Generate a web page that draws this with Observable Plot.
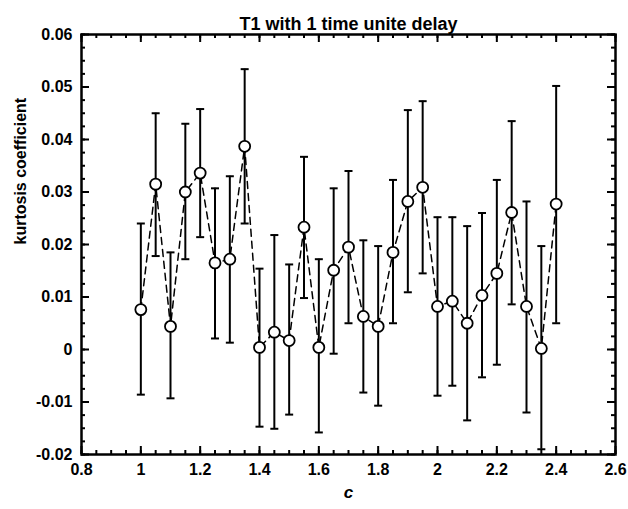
<!DOCTYPE html>
<html>
<head>
<meta charset="utf-8">
<script src="https://cdn.jsdelivr.net/npm/d3@7"></script>
<script src="https://cdn.jsdelivr.net/npm/@observablehq/plot@0.6"></script>
<style>
  html, body { margin: 0; padding: 0; background: #fff; }
</style>
</head>
<body>
<div id="chart"></div>
<script>
const titleText = "T1 with 1 time unite delay";
const xLabel = "c";
const yLabel = "kurtosis coefficient";

const cValues = [1.0, 1.05, 1.1, 1.15, 1.2, 1.25, 1.3, 1.35, 1.4, 1.45, 1.5, 1.55, 1.6, 1.65, 1.7,
                 1.75, 1.8, 1.85, 1.9, 1.95, 2.0, 2.05, 2.1, 2.15, 2.2, 2.25, 2.3, 2.35, 2.4];
const kurtMean = [0.0076, 0.0315, 0.0044, 0.0300, 0.0336, 0.0165, 0.0172, 0.0387, 0.0004, 0.0033,
                  0.0017, 0.0233, 0.0004, 0.0151, 0.0195, 0.0063, 0.0044, 0.0185, 0.0282, 0.0309,
                  0.0082, 0.0092, 0.0050, 0.0103, 0.0145, 0.0261, 0.0082, 0.0002, 0.0277];
const kurtHigh = [0.0240, 0.0450, 0.0185, 0.0430, 0.0458, 0.0307, 0.0330, 0.0534, 0.0154, 0.0218,
                  0.0162, 0.0367, 0.0172, 0.0307, 0.0340, 0.0208, 0.0197, 0.0323, 0.0456, 0.0473,
                  0.0252, 0.0252, 0.0235, 0.0260, 0.0323, 0.0435, 0.0282, 0.0197, 0.0502];
const kurtLow  = [-0.0086, 0.0178, -0.0093, 0.0172, 0.0214, 0.0021, 0.0013, 0.0240, -0.0147, -0.0151,
                  -0.0124, 0.0098, -0.0158, -0.0008, 0.0050, -0.0082, -0.0107, 0.0050, 0.0109, 0.0145,
                  -0.0088, -0.0069, -0.0135, -0.0053, -0.0029, 0.0086, -0.0120, -0.0190, 0.0050];

const xTickLabels = [0.8, 1.0, 1.2, 1.4, 1.6, 1.8, 2.0, 2.2, 2.4, 2.6];
const yTickLabels = [-0.02, -0.01, 0, 0.01, 0.02, 0.03, 0.04, 0.05, 0.06];
const xMinorTicks = d3.range(0, 37).map(i => +(0.8 + i * 0.05).toFixed(2));
const yMinorTicks = d3.range(0, 33).map(i => +(-0.02 + i * 0.0025).toFixed(4));

const data = cValues.map((c, i) => ({c, m: kurtMean[i], hi: kurtHigh[i], lo: kurtLow[i]}));

const W = 628, H = 509;
const mL = 81, mR = 13, mT = 34, mB = 55;
const fw = W - mL - mR, fh = H - mT - mB;
const fmt = d => String(+d.toFixed(3));

const capSymbol = {
  draw(ctx, size) {
    const w = Math.sqrt(size / Math.PI);
    ctx.moveTo(-w, 0);
    ctx.lineTo(w, 0);
  }
};

const font = "'Liberation Sans', Arial, sans-serif";

const plot = Plot.plot({
  width: W,
  height: H,
  marginLeft: mL,
  marginRight: mR,
  marginTop: mT,
  marginBottom: mB,
  style: {fontFamily: font, fontSize: "16px", fontWeight: "bold", color: "#000", background: "#fff", overflow: "visible"},
  x: {domain: [0.8, 2.6]},
  y: {domain: [-0.02, 0.06]},
  marks: [
    // tick marks (inward) on all four sides
    Plot.tickX(xMinorTicks, {x: d => d, insetTop: fh - 4, stroke: "#000", strokeWidth: 2}),
    Plot.tickX(xTickLabels, {x: d => d, insetTop: fh - 8, stroke: "#000", strokeWidth: 2}),
    Plot.tickX(xMinorTicks, {x: d => d, insetBottom: fh - 4, stroke: "#000", strokeWidth: 2}),
    Plot.tickX(xTickLabels, {x: d => d, insetBottom: fh - 8, stroke: "#000", strokeWidth: 2}),
    Plot.tickY(yMinorTicks, {y: d => d, insetRight: fw - 4, stroke: "#000", strokeWidth: 2}),
    Plot.tickY(yTickLabels, {y: d => d, insetRight: fw - 8, stroke: "#000", strokeWidth: 2}),
    Plot.tickY(yMinorTicks, {y: d => d, insetLeft: fw - 4, stroke: "#000", strokeWidth: 2}),
    Plot.tickY(yTickLabels, {y: d => d, insetLeft: fw - 8, stroke: "#000", strokeWidth: 2}),
    Plot.axisX({ticks: xTickLabels, tickSize: 0, tickPadding: 9, tickFormat: fmt, label: null,
                fontSize: 16, fontWeight: "bold", fill: "#000"}),
    Plot.axisY({ticks: yTickLabels, tickSize: 0, tickPadding: 9, tickFormat: fmt, label: null,
                fontSize: 16, fontWeight: "bold", fill: "#000"}),
    // error bars
    Plot.ruleX(data, {x: "c", y1: "lo", y2: "hi", stroke: "#000", strokeWidth: 2}),
    Plot.dot(data, {x: "c", y: "hi", symbol: capSymbol, r: 4, stroke: "#000", strokeWidth: 2, fill: "none"}),
    Plot.dot(data, {x: "c", y: "lo", symbol: capSymbol, r: 4, stroke: "#000", strokeWidth: 2, fill: "none"}),
    // dashed connecting line
    Plot.line(data, {x: "c", y: "m", stroke: "#000", strokeWidth: 1.5, strokeDasharray: "7,5"}),
    // circles
    Plot.dot(data, {x: "c", y: "m", r: 5.5, stroke: "#000", strokeWidth: 1.8, fill: "#fff"}),
    Plot.frame({stroke: "#000", strokeWidth: 2.5}),
    // titles
    Plot.text([titleText], {frameAnchor: "top", dy: -17, fontSize: 18, fontWeight: "bold", fill: "#000"}),
    Plot.text([yLabel], {frameAnchor: "left", dx: -61, rotate: -90, fontSize: 16, fontWeight: "bold", fill: "#000"}),
    Plot.text([xLabel], {frameAnchor: "bottom", dy: 43, fontSize: 17, fontWeight: "bold", fontStyle: "italic", fill: "#000"})
  ]
});

document.getElementById("chart").appendChild(plot);
</script>
</body>
</html>
